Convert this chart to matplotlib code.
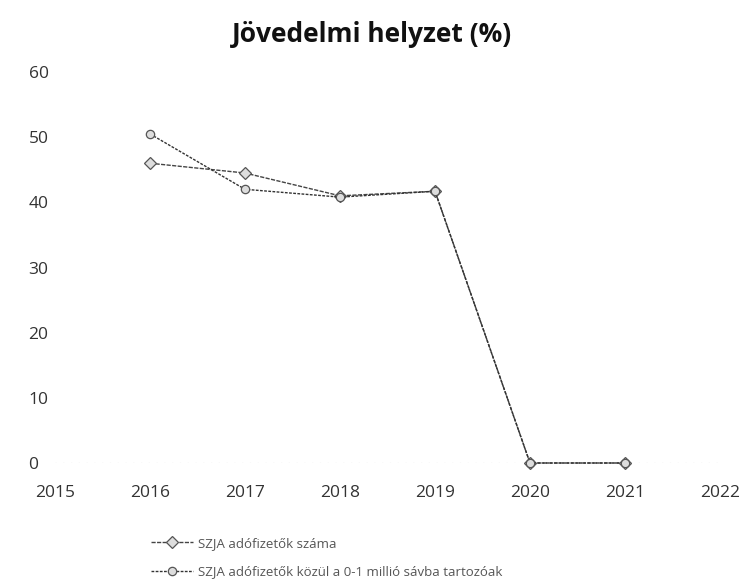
import matplotlib
matplotlib.use("Agg")
import matplotlib.pyplot as plt

years = [2016, 2017, 2018, 2019, 2020, 2021]
szja_adofizetok = [46.0, 44.5, 41.0, 41.7, 0.0, 0.0]
szja_0_1_millio = [50.5, 42.0, 40.8, 41.7, 0.0, 0.0]
series_labels = ["SZJA adófizetők száma",
                 "SZJA adófizetők közül a 0-1 millió sávba tartozóak"]
x_ticks = [2015, 2016, 2017, 2018, 2019, 2020, 2021, 2022]
y_ticks = [0, 10, 20, 30, 40, 50, 60]

plt.rcParams['font.family'] = ['Open Sans', 'DejaVu Sans']

fig = plt.figure(figsize=(7.44, 5.85), dpi=100)
ax = fig.add_axes([55/744, 1-463/585, (720-55)/744, (463-72)/585])

ax.plot(years, szja_adofizetok, color='#444444', lw=1.0, ls=(0, (3, 1)),
        marker='D', ms=6, mfc='#dddddd', mec='#555555', mew=0.9, label=series_labels[0], clip_on=False)
ax.plot(years, szja_0_1_millio, color='#333333', lw=1.0, ls=(0, (2, 1)),
        marker='o', ms=6, mfc='#dddddd', mec='#555555', mew=0.9, label=series_labels[1], clip_on=False)

ax.axhline(0, color='#999999', lw=0.8, ls=(0, (1, 6)), zorder=0)

ax.set_xlim(2015, 2022)
ax.set_ylim(0, 60)
ax.set_xticks(x_ticks)
ax.set_xticklabels([str(v) for v in x_ticks])
ax.set_yticks(y_ticks)
ax.set_yticklabels([str(v) for v in y_ticks])
for s in ax.spines.values():
    s.set_visible(False)
ax.tick_params(axis='both', length=0, labelsize=12.5, colors='#333333')
ax.tick_params(axis='x', pad=16)
ax.tick_params(axis='y', pad=19)
for lab in ax.get_yticklabels():
    lab.set_horizontalalignment('left')

fig.text(0.5, 1-35/585, "Jövedelmi helyzet (%)", ha='center', va='center',
         fontsize=19, fontweight='bold', color='#111111')

leg = fig.legend(loc='upper left', bbox_to_anchor=(148/744, 1-534/585), frameon=False,
                 fontsize=9.5, labelspacing=1.2, handlelength=3.2, handletextpad=0.4,
                 borderaxespad=0, borderpad=0.2)
for t in leg.get_texts():
    t.set_color('#555555')

fig.savefig("out.png", dpi=100)
